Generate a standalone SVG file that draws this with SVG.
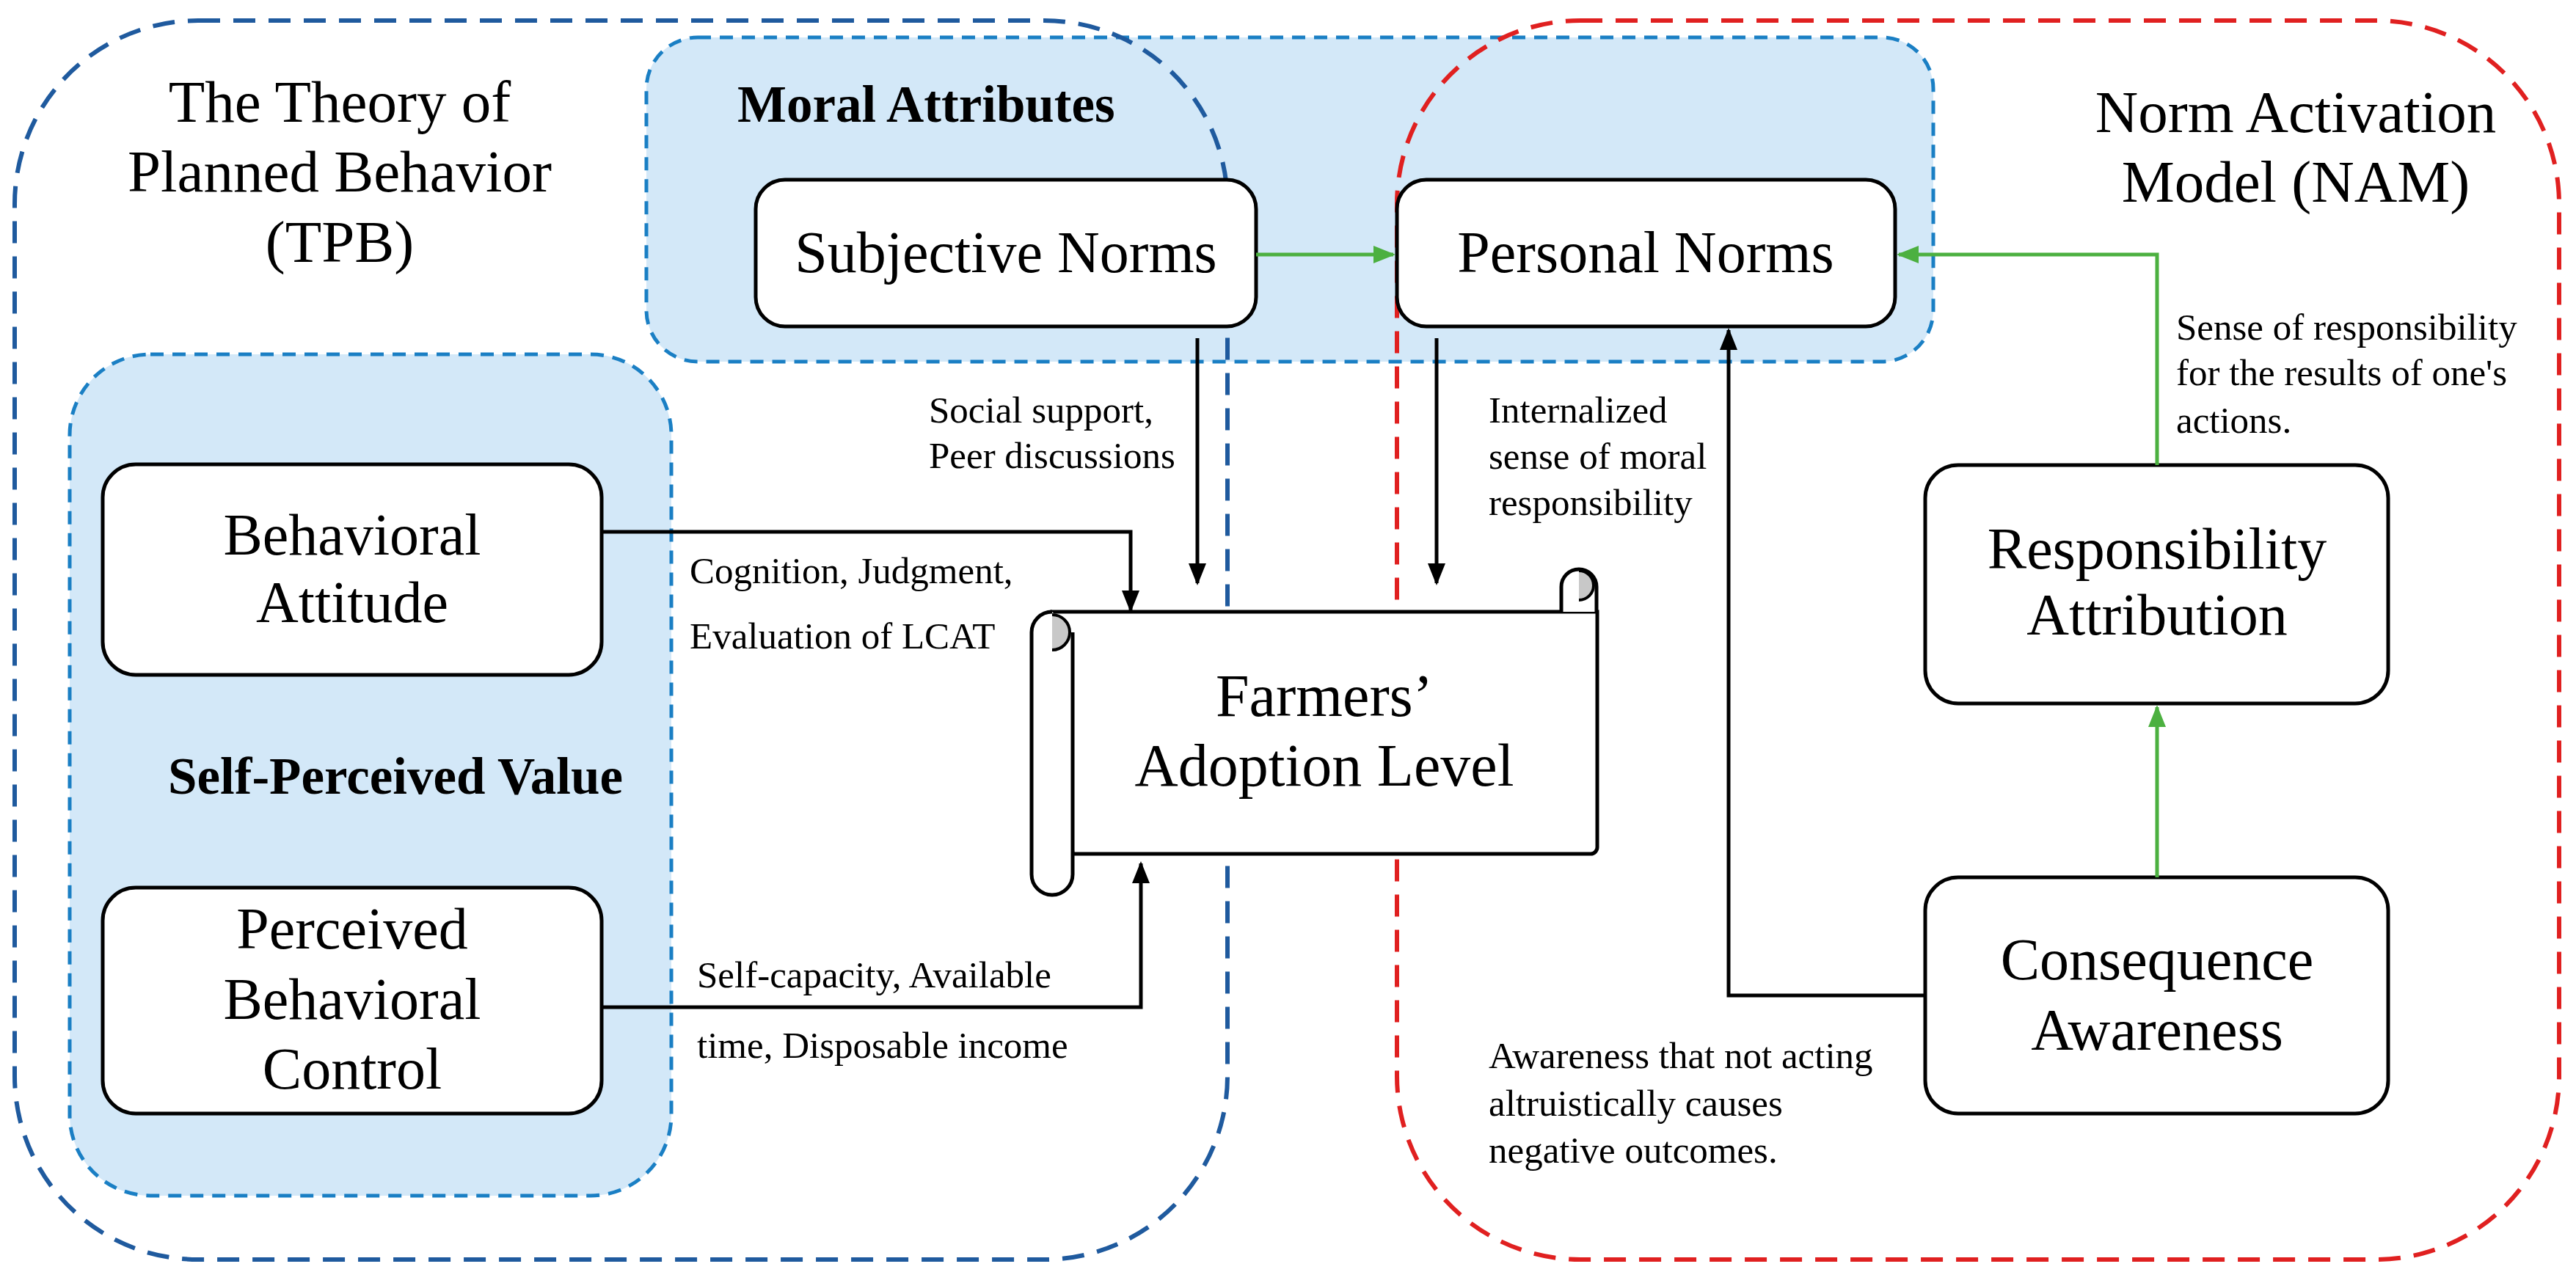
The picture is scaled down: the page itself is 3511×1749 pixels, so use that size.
<svg xmlns="http://www.w3.org/2000/svg" width="3511" height="1749" viewBox="0 0 3511 1749">
<defs>
<marker id="ab" viewBox="0 0 10 10" refX="9" refY="5" markerWidth="6" markerHeight="6" orient="auto"><path d="M0,1 L10,5 L0,9 z" fill="#000"/></marker>
<marker id="ag" viewBox="0 0 10 10" refX="9" refY="5" markerWidth="6" markerHeight="6" orient="auto"><path d="M0,1 L10,5 L0,9 z" fill="#4cb040"/></marker>
</defs>
<style>
.t{font-family:"Liberation Serif",serif;fill:#000}
.big{font-size:81px;text-anchor:middle}
.node{font-size:80px;text-anchor:middle}
.lab{font-size:51px}
.hd{font-size:71px;font-weight:bold}
.box{fill:#fff;stroke:#000;stroke-width:5}
.grp{fill:#d3e8f8;stroke:#1a7fc4;stroke-width:5;stroke-dasharray:18 12}
.bl{fill:none;stroke:#000;stroke-width:5}
.gr{fill:none;stroke:#4cb040;stroke-width:5}
</style>
<rect width="3511" height="1749" fill="#fff"/>
<g id="moral"><rect class="grp" x="881" y="51" width="1754" height="442" rx="70"/><text class="t hd" x="1005" y="166">Moral Attributes</text></g>
<g id="selfval"><rect class="grp" x="95" y="483" width="820" height="1147" rx="110"/><text class="t hd" x="539" y="1082" text-anchor="middle">Self-Perceived Value</text></g>
<g id="tpb"><rect x="20" y="28" width="1653" height="1689" rx="250" fill="none" stroke="#1f5a9e" stroke-width="6" stroke-dasharray="30 18"/>
<text class="t big" x="463" y="166">The Theory of</text><text class="t big" x="463" y="261">Planned Behavior</text><text class="t big" x="463" y="357">(TPB)</text></g>
<g id="nam"><rect x="1904" y="28" width="1584" height="1689" rx="250" fill="none" stroke="#e02020" stroke-width="6" stroke-dasharray="30 18"/>
<text class="t big" x="3129" y="180">Norm Activation</text><text class="t big" x="3129" y="275">Model (NAM)</text></g>
<g id="subj"><rect class="box" x="1030" y="245" width="682" height="200" rx="40"/><text class="t node" x="1371" y="371">Subjective Norms</text></g>
<g id="pers"><rect class="box" x="1904" y="245" width="679" height="200" rx="40"/><text class="t node" x="2243" y="371">Personal Norms</text></g>
<g id="att"><rect class="box" x="140" y="633" width="680" height="287" rx="45"/><text class="t node" x="480" y="756">Behavioral</text><text class="t node" x="480" y="848">Attitude</text></g>
<g id="pbc"><rect class="box" x="140" y="1210" width="680" height="308" rx="45"/><text class="t node" x="480" y="1293">Perceived</text><text class="t node" x="480" y="1389">Behavioral</text><text class="t node" x="480" y="1484">Control</text></g>
<g id="resp"><rect class="box" x="2624" y="634" width="631" height="325" rx="45"/><text class="t node" x="2940" y="775">Responsibility</text><text class="t node" x="2940" y="865">Attribution</text></g>
<g id="cons"><rect class="box" x="2624" y="1196" width="631" height="322" rx="45"/><text class="t node" x="2940" y="1335">Consequence</text><text class="t node" x="2940" y="1431">Awareness</text></g>
<g id="scroll">
<path class="box" d="M1434,834 L2177,834 L2177,1155 a9,9 0 0 1 -9,9 L1462,1164 Z"/>
<path class="box" d="M1434,834 a28,28 0 0 0 -28,28 L1406,1192 a28,28 0 0 0 56,0 L1462,862"/>
<path d="M1434,838 a24,24 0 0 1 24,24 a24,24 0 0 1 -24,24" fill="#c8c8c8" stroke="#000" stroke-width="4"/>
<path class="box" d="M2128,834 L2128,800 a24,24 0 0 1 48,0 L2176,834"/>
<path d="M2152,778 a20,20 0 0 1 20,20 a20,20 0 0 1 -20,20" fill="#c8c8c8" stroke="#000" stroke-width="4"/>
<text class="t node" x="1805" y="976" style="font-size:82px">Farmers’</text><text class="t node" x="1805" y="1071" style="font-size:82px">Adoption Level</text></g>
<g id="connectors">
<path class="gr" d="M1712,347 L1899,347" marker-end="url(#ag)"/>
<path class="gr" d="M2940,634 L2940,347 L2588,347" marker-end="url(#ag)"/>
<path class="gr" d="M2940,1196 L2940,964" marker-end="url(#ag)"/>
<path class="bl" d="M1632,461 L1632,795" marker-end="url(#ab)"/>
<path class="bl" d="M1958,461 L1958,795" marker-end="url(#ab)"/>
<path class="bl" d="M820,725 L1541,725 L1541,832" marker-end="url(#ab)"/>
<path class="bl" d="M820,1373 L1555,1373 L1555,1177" marker-end="url(#ab)"/>
<path class="bl" d="M2624,1357 L2356,1357 L2356,450" marker-end="url(#ab)"/>
</g>
<g id="labels">
<text class="t lab" x="1266" y="576">Social support,</text><text class="t lab" x="1266" y="638">Peer discussions</text>
<text class="t lab" x="940" y="795">Cognition, Judgment,</text><text class="t lab" x="940" y="884">Evaluation of LCAT</text>
<text class="t lab" x="950" y="1346">Self-capacity, Available</text><text class="t lab" x="950" y="1442">time, Disposable income</text>
<text class="t lab" x="2029" y="576">Internalized</text><text class="t lab" x="2029" y="639">sense of moral</text><text class="t lab" x="2029" y="702">responsibility</text>
<text class="t lab" x="2966" y="463">Sense of responsibility</text><text class="t lab" x="2966" y="525">for the results of one's</text><text class="t lab" x="2966" y="590">actions.</text>
<text class="t lab" x="2029" y="1456">Awareness that not acting</text><text class="t lab" x="2029" y="1521">altruistically causes</text><text class="t lab" x="2029" y="1585">negative outcomes.</text>
</g>
</svg>
